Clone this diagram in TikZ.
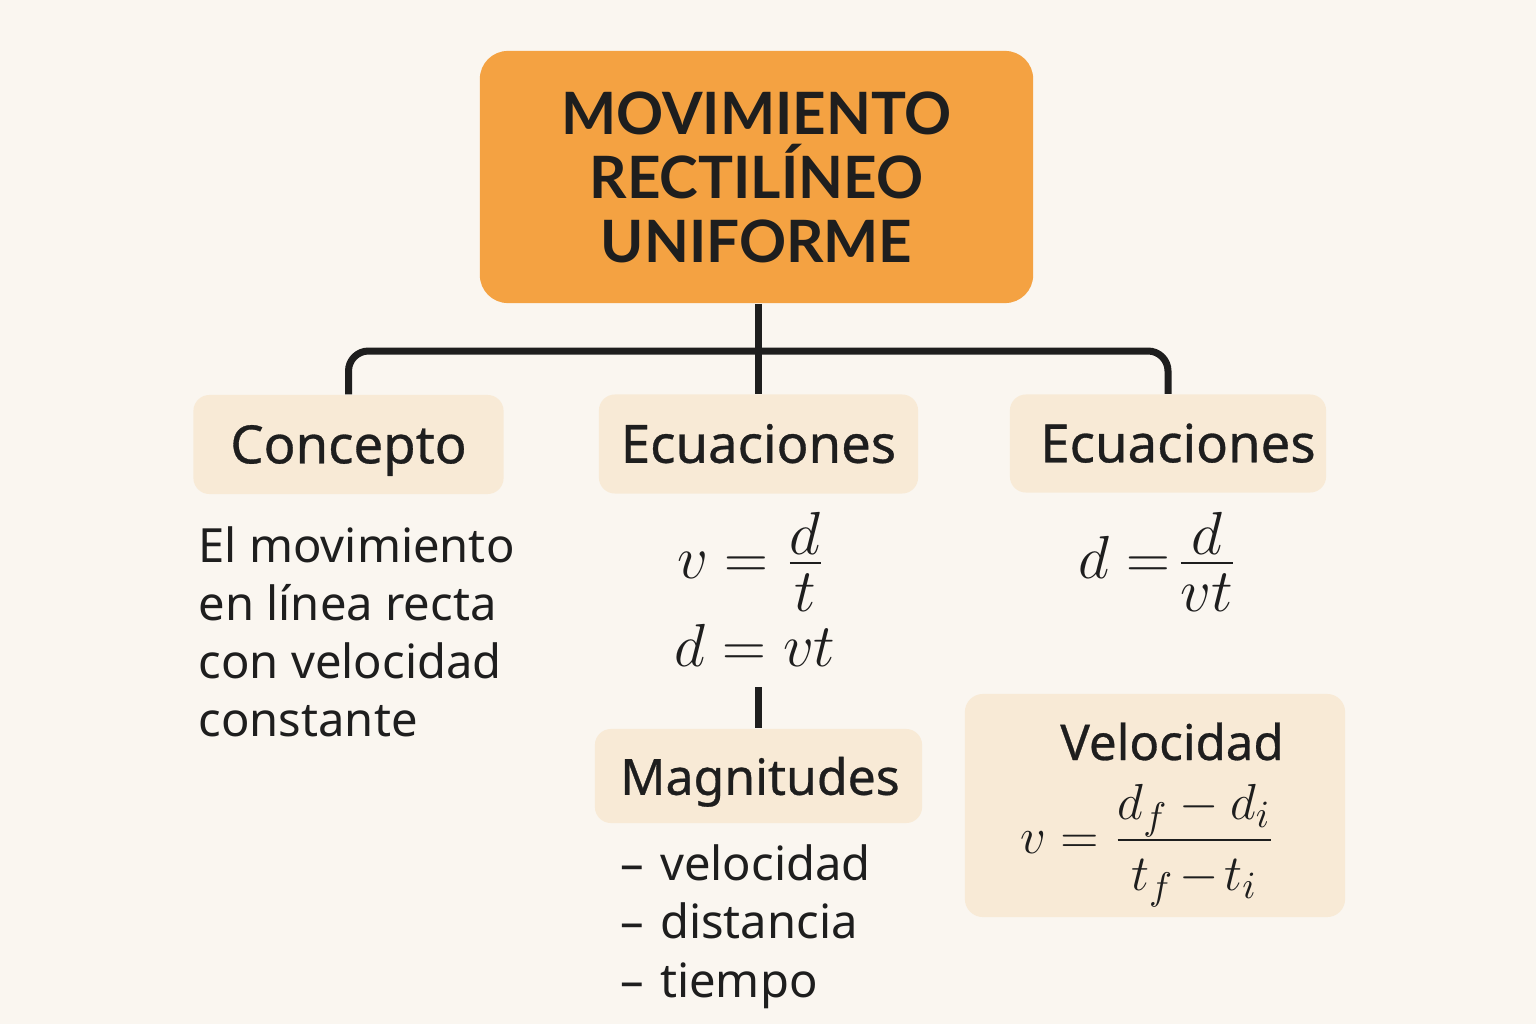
\documentclass[tikz,border=0pt]{standalone}
\usepackage{amsmath}
\usepackage{fontspec}
\setmainfont{Noto Sans}
\newfontfamily\labfont[FakeBold=0.6]{Noto Sans}
\newfontfamily\titlefont{Lato}
\definecolor{bgc}{HTML}{FAF6F0}
\definecolor{orangebox}{HTML}{F4A242}
\definecolor{lightbox}{HTML}{F8EAD6}
\definecolor{ink}{HTML}{1E1E1E}
\begin{document}
\begin{tikzpicture}[x=0.01cm,y=-0.01cm,
  titlebox/.style={rectangle, rounded corners=0.28cm, fill=orangebox, inner sep=0pt,
    minimum width=5.53cm, minimum height=2.52cm, align=center, text=ink,
    font=\titlefont\bfseries\fontsize{16.6}{18.2}\selectfont},
  labbox/.style={rectangle, rounded corners=0.16cm, fill=lightbox, inner sep=0pt,
    text=ink, font=\labfont\fontsize{15}{18}\selectfont, text height=10.7pt, text depth=0pt},
  plain/.style={anchor=base west, inner sep=0pt, text=ink, font=\fontsize{13.4}{16}\selectfont},
  mathtxt/.style={anchor=base, inner sep=0pt, text=ink, font=\fontsize{17}{20}\selectfont},
  conn/.style={draw=ink, line width=0.07cm}]
\useasboundingbox (0,0) rectangle (1536,1024);
\fill[bgc] (0,0) rectangle (1536,1024);

% title
\node[titlebox] (title) at (756.5,177) {MOVIMIENTO\\RECTILÍNEO\\UNIFORME};

% level boxes
\node[labbox, minimum width=3.10cm, minimum height=0.99cm] (concepto) at (348.5,444.5) {Concepto};
\node[labbox, minimum width=3.19cm, minimum height=0.99cm] (ecu1) at (758.5,444) {Ecuaciones};
\node[labbox, minimum width=3.16cm, minimum height=0.98cm] (ecu2) at (1168,443.5) {\hspace*{0.2cm}Ecuaciones};

% connectors
\coordinate (bar) at (758,351);
\draw[conn] (title.south -| ecu1.north) -- (ecu1.north);
\draw[conn, rounded corners=0.2cm] (concepto.north) |- (bar) -| (ecu2.north);

% concept text
\node[plain] (c1) at (198,562) {El movimiento};
\node[plain] (c2) at (198,620) {en línea recta};
\node[plain] (c3) at (198,678) {con velocidad};
\node[plain] (c4) at (198,736) {constante};

% middle equations
\node[mathtxt] (eqv) at (751,578) {$v = \frac{\textstyle d}{\textstyle t\rule{0pt}{0.75em}}$};
\node[mathtxt] (eqd) at (755,666) {$d = vt$};

% magnitudes
\node[labbox, minimum width=3.27cm, minimum height=0.94cm, font=\labfont\fontsize{14.2}{18}\selectfont] (magn) at (758.5,776) {\hspace*{0.03cm}Magnitudes};
\coordinate (stub) at (758.5,687);
\draw[conn] (stub) -- (magn.north);
\node[plain] (m1) at (620,880) {–\hspace{0.16cm}velocidad};
\node[plain] (m2) at (620,938) {–\hspace{0.16cm}distancia};
\node[plain] (m3) at (620,997) {–\hspace{0.16cm}tiempo};

% right equations
\node[mathtxt] (eqr) at (1158,578) {$d \mathrel{=}\mkern-3mu \frac{\textstyle d}{\textstyle vt\rule{0pt}{0.75em}}$};

% velocidad box
\node[rectangle, rounded corners=0.18cm, fill=lightbox, minimum width=3.80cm, minimum height=2.23cm, inner sep=0pt] (velbox) at (1155,805.5) {};
\node[anchor=base, inner sep=0pt, text=ink, font=\labfont\fontsize{14}{16}\selectfont] (veltitle) at (1172,760) {Velocidad};
\node[mathtxt, font=\fontsize{15}{18}\selectfont] (eqvel) at (1148,853) {$v = \frac{\textstyle \smash[b]{d_f - d_i}\rule[-0.33em]{0pt}{0.1em}}{\textstyle t_f\mkern2mu{-}\mkern2mu t_i\rule{0pt}{0.89em}}$};
\end{tikzpicture}
\end{document}
